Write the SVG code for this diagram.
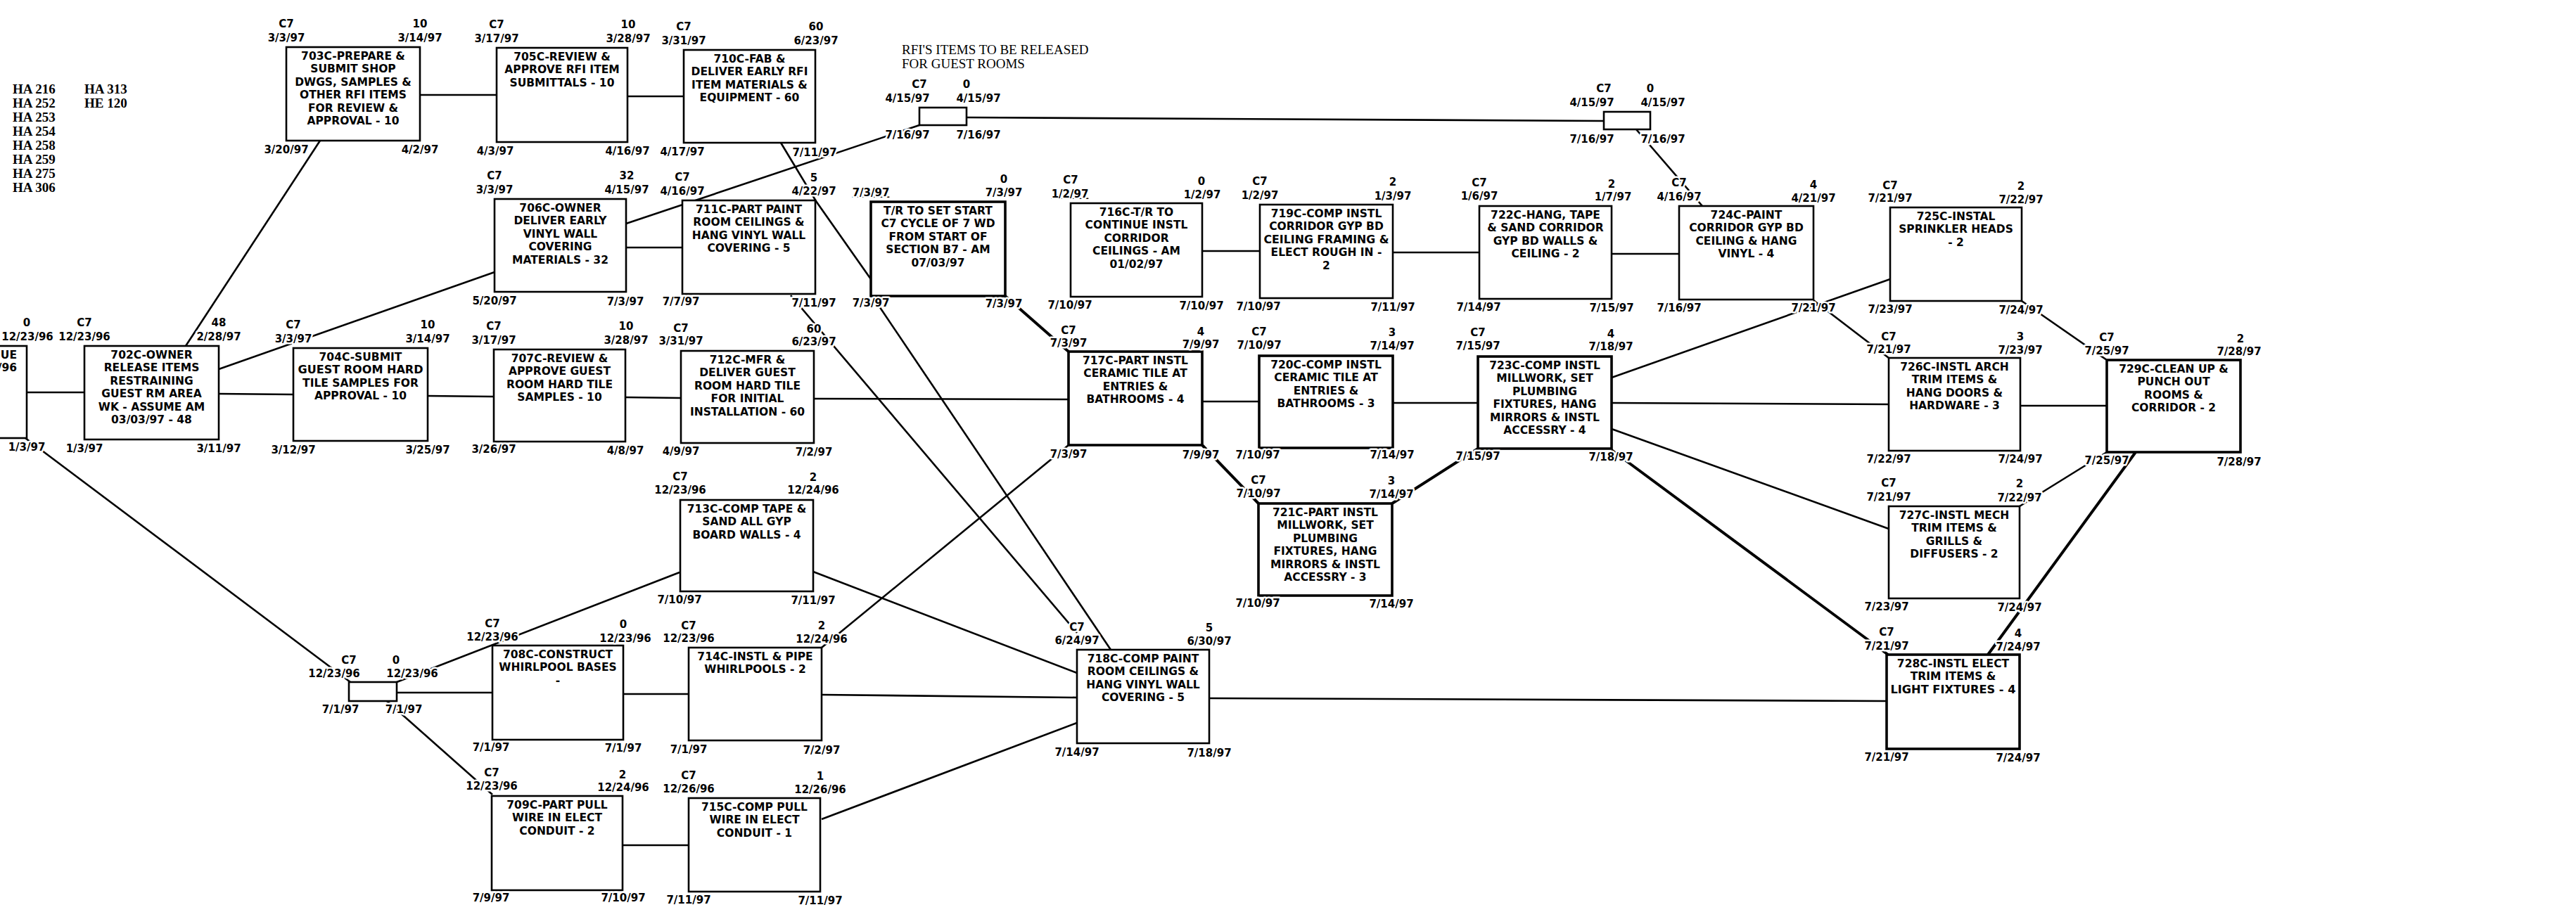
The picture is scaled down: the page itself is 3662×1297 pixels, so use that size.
<svg xmlns="http://www.w3.org/2000/svg" width="3662" height="1297" viewBox="0 0 3662 1297">
<style>
.box{fill:#fff;stroke:#000;stroke-width:2.6}
.crit{stroke-width:3.6}
.t{font-family:"DejaVu Sans","Liberation Sans",sans-serif;font-weight:bold;font-size:15.5px;text-anchor:middle;fill:#000}
.l{font-family:"DejaVu Sans","Liberation Sans",sans-serif;font-weight:bold;font-size:15px;text-anchor:middle;fill:#000;stroke:#fff;stroke-width:5;stroke-linejoin:round;paint-order:stroke}
.u{text-decoration:underline}
.c line,.c polyline{stroke:#000;stroke-width:2.6;fill:none}
.c .k{stroke-width:4}
.s{font-family:"Liberation Serif","Times New Roman",serif;font-weight:bold;font-size:19px;fill:#000}
.s2{font-family:"Liberation Serif","Times New Roman",serif;font-size:19px;fill:#000}
</style>
<rect width="3662" height="1297" fill="#fff"/>
<g id="legend">
<text class="s" x="18" y="133">HA 216</text><text class="s" x="18" y="153">HA 252</text><text class="s" x="18" y="173">HA 253</text><text class="s" x="18" y="193">HA 254</text><text class="s" x="18" y="213">HA 258</text><text class="s" x="18" y="233">HA 259</text><text class="s" x="18" y="253">HA 275</text><text class="s" x="18" y="273">HA 306</text>
<text class="s" x="120" y="133">HA 313</text><text class="s" x="120" y="153">HE 120</text>
<text class="s2" x="1282" y="77">RFI'S ITEMS TO BE RELEASED</text><text class="s2" x="1282" y="97">FOR GUEST ROOMS</text>
</g>
<g id="connectors" class="c">
<line x1="38" y1="558" x2="120" y2="558"/>
<line x1="264" y1="492" x2="455" y2="200"/>
<line x1="311" y1="525" x2="703" y2="387"/>
<line x1="311" y1="560" x2="417" y2="561"/>
<line x1="608" y1="563" x2="702" y2="564"/>
<line x1="889" y1="565" x2="968" y2="566"/>
<line x1="1157" y1="567" x2="1519" y2="568"/>
<line x1="597" y1="135" x2="706" y2="135"/>
<line x1="892" y1="137" x2="972" y2="137"/>
<line x1="890" y1="352" x2="970" y2="352"/>
<line x1="890" y1="318" x2="1307" y2="178"/>
<polyline points="1110,203 1160,286 1238,397"/>
<line class="k" x1="1429" y1="421" x2="1519" y2="500"/>
<line x1="1124" y1="420" x2="1531" y2="900"/>
<line x1="1240" y1="421" x2="1579" y2="924"/>
<line x1="1709" y1="357" x2="1791" y2="357"/>
<line x1="1980" y1="359" x2="2103" y2="359"/>
<line x1="2291" y1="361" x2="2387" y2="361"/>
<line x1="1374" y1="167" x2="2280" y2="172"/>
<line x1="2326" y1="184" x2="2420" y2="293"/>
<line x1="2291" y1="537" x2="2687" y2="397"/>
<line x1="2578" y1="427" x2="2685" y2="509"/>
<line x1="2291" y1="573" x2="2685" y2="575"/>
<line x1="2291" y1="610" x2="2685" y2="752"/>
<line class="k" x1="2291" y1="640" x2="2684" y2="931"/>
<line x1="2872" y1="577" x2="2995" y2="577"/>
<line x1="2874" y1="428" x2="2995" y2="512"/>
<line x1="2871" y1="720" x2="2995" y2="643"/>
<line class="k" x1="2826" y1="931" x2="3036" y2="643"/>
<line x1="1719" y1="993" x2="2682" y2="997"/>
<line x1="1156" y1="813" x2="1531" y2="957"/>
<line x1="1168" y1="988" x2="1531" y2="992"/>
<line x1="1168" y1="1165" x2="1531" y2="1028"/>
<line x1="564" y1="970" x2="966" y2="814"/>
<line x1="564" y1="985" x2="700" y2="985"/>
<line x1="550" y1="997" x2="700" y2="1130"/>
<line x1="36" y1="623" x2="498" y2="970"/>
<line x1="886" y1="987" x2="979" y2="987"/>
<line x1="885" y1="1202" x2="979" y2="1202"/>
<line x1="1168" y1="921" x2="1519" y2="633"/>
<line x1="1709" y1="571" x2="1790" y2="571"/>
<line x1="1980" y1="573" x2="2101" y2="573"/>
<line class="k" x1="1709" y1="633" x2="1789" y2="716"/>
<line class="k" x1="1979" y1="716" x2="2101" y2="638"/>
</g>

<g id="nP" transform="translate(-12,492)"><rect class="box" width="50" height="131"/><text class="t" x="36" y="17.5" style="text-anchor:end">UE</text><text class="t" x="36" y="36" style="text-anchor:end">/96</text><text class="l" x="50" y="-28.5">0</text><text class="l" x="51" y="-8.5">12/23/96</text><text class="l" x="50" y="148.5">1/3/97</text></g>

<g id="n702C" transform="translate(120,492)"><rect class="box" width="191" height="133"/><text class="t" x="95.5" y="17.5">702C-OWNER</text><text class="t" x="95.5" y="36">RELEASE ITEMS</text><text class="t" x="95.5" y="54.5">RESTRAINING</text><text class="t" x="95.5" y="73">GUEST RM AREA</text><text class="t" x="95.5" y="91.5">WK - ASSUME AM</text><text class="t" x="95.5" y="110">03/03/97 - 48</text><text class="l" x="0" y="-28.5">C7</text><text class="l" x="0" y="-8.5">12/23/96</text><text class="l" x="191" y="-28.5">48</text><text class="l" x="191" y="-8.5">2/28/97</text><text class="l" x="0" y="150.5">1/3/97</text><text class="l" x="191" y="150.5">3/11/97</text></g>

<g id="n703C" transform="translate(407,67)"><rect class="box" width="190" height="133"/><text class="t" x="95" y="17.5">703C-PREPARE &amp;</text><text class="t" x="95" y="36">SUBMIT SHOP</text><text class="t" x="95" y="54.5">DWGS, SAMPLES &amp;</text><text class="t" x="95" y="73">OTHER RFI ITEMS</text><text class="t" x="95" y="91.5">FOR REVIEW &amp;</text><text class="t" x="95" y="110">APPROVAL - 10</text><text class="l" x="0" y="-28.5">C7</text><text class="l" x="0" y="-8.5">3/3/97</text><text class="l" x="190" y="-28.5">10</text><text class="l" x="190" y="-8.5">3/14/97</text><text class="l" x="0" y="150.5">3/20/97</text><text class="l" x="190" y="150.5">4/2/97</text></g>

<g id="n704C" transform="translate(417,495)"><rect class="box" width="191" height="132"/><text class="t" x="95.5" y="17.5">704C-SUBMIT</text><text class="t" x="95.5" y="36" textLength="178" lengthAdjust="spacingAndGlyphs">GUEST ROOM HARD</text><text class="t" x="95.5" y="54.5">TILE SAMPLES FOR</text><text class="t" x="95.5" y="73">APPROVAL - 10</text><text class="l" x="0" y="-28.5">C7</text><text class="l" x="0" y="-8.5">3/3/97</text><text class="l" x="191" y="-28.5">10</text><text class="l" x="191" y="-8.5">3/14/97</text><text class="l" x="0" y="149.5">3/12/97</text><text class="l" x="191" y="149.5">3/25/97</text></g>

<g id="n705C" transform="translate(706,68)"><rect class="box" width="186" height="134"/><text class="t" x="93" y="17.5">705C-REVIEW &amp;</text><text class="t" x="93" y="36">APPROVE RFI ITEM</text><text class="t" x="93" y="54.5">SUBMITTALS - 10</text><text class="l" x="0" y="-28.5">C7</text><text class="l" x="0" y="-8.5">3/17/97</text><text class="l" x="187" y="-28.5">10</text><text class="l" x="187" y="-8.5">3/28/97</text><text class="l" x="-2" y="151.5">4/3/97</text><text class="l" x="186" y="151.5">4/16/97</text></g>

<g id="n706C" transform="translate(703,283)"><rect class="box" width="187" height="132"/><text class="t" x="93.5" y="17.5">706C-OWNER</text><text class="t" x="93.5" y="36">DELIVER EARLY</text><text class="t" x="93.5" y="54.5">VINYL WALL</text><text class="t" x="93.5" y="73">COVERING</text><text class="t" x="93.5" y="91.5">MATERIALS - 32</text><text class="l" x="0" y="-28.5">C7</text><text class="l" x="0" y="-8.5">3/3/97</text><text class="l" x="188" y="-28.5">32</text><text class="l" x="188" y="-8.5">4/15/97</text><text class="l" x="0" y="149.5">5/20/97</text><text class="l" x="186" y="150.5">7/3/97</text></g>

<g id="n707C" transform="translate(702,497)"><rect class="box" width="187" height="131"/><text class="t" x="93.5" y="17.5">707C-REVIEW &amp;</text><text class="t" x="93.5" y="36">APPROVE GUEST</text><text class="t" x="93.5" y="54.5">ROOM HARD TILE</text><text class="t" x="93.5" y="73">SAMPLES - 10</text><text class="l" x="0" y="-28.5">C7</text><text class="l" x="0" y="-8.5">3/17/97</text><text class="l" x="188" y="-28.5">10</text><text class="l" x="188" y="-8.5">3/28/97</text><text class="l" x="0" y="146.5">3/26/97</text><text class="l" x="187" y="148.5">4/8/97</text></g>

<g id="n708C" transform="translate(700,918)"><rect class="box" width="186" height="134"/><text class="t" x="93" y="17.5">708C-CONSTRUCT</text><text class="t" x="93" y="36">WHIRLPOOL BASES</text><text class="t" x="93" y="54.5">-</text><text class="l" x="0" y="-26.5">C7</text><text class="l" x="0" y="-7">12/23/96</text><text class="l" x="186" y="-25">0</text><text class="l" x="189" y="-5">12/23/96</text><text class="l" x="-2" y="149.5">7/1/97</text><text class="l" x="186" y="150.5">7/1/97</text></g>

<g id="n709C" transform="translate(699,1132)"><rect class="box" width="186" height="134"/><text class="t" x="93" y="17.5">709C-PART PULL</text><text class="t" x="93" y="36">WIRE IN ELECT</text><text class="t" x="93" y="54.5">CONDUIT - 2</text><text class="l" x="0" y="-28">C7</text><text class="l" x="0" y="-9">12/23/96</text><text class="l" x="186" y="-25">2</text><text class="l" x="187" y="-7">12/24/96</text><text class="l" x="-1" y="150">7/9/97</text><text class="l" x="187" y="150">7/10/97</text></g>

<g id="n710C" transform="translate(972,71)"><rect class="box" width="187" height="132"/><text class="t" x="93.5" y="17.5">710C-FAB &amp;</text><text class="t" x="93.5" y="36">DELIVER EARLY RFI</text><text class="t" x="93.5" y="54.5">ITEM MATERIALS &amp;</text><text class="t" x="93.5" y="73">EQUIPMENT - 60</text><text class="l" x="0" y="-28.5">C7</text><text class="l" x="0" y="-8.5">3/31/97</text><text class="l" x="188" y="-28.5">60</text><text class="l" x="188" y="-8.5">6/23/97</text><text class="l" x="-2" y="149.5">4/17/97</text><text class="l" x="186" y="150.5">7/11/97</text></g>

<g id="n711C" transform="translate(970,285)"><rect class="box" width="189" height="133"/><text class="t" x="94.5" y="17.5">711C-PART PAINT</text><text class="t" x="94.5" y="36">ROOM CEILINGS &amp;</text><text class="t" x="94.5" y="54.5">HANG VINYL WALL</text><text class="t" x="94.5" y="73">COVERING - 5</text><text class="l" x="0" y="-28.5">C7</text><text class="l" x="0" y="-8.5">4/16/97</text><text class="l" x="187" y="-27">5</text><text class="l" x="187" y="-8">4/22/97</text><text class="l" x="-2" y="148.5">7/7/97</text><text class="l" x="187" y="150.5">7/11/97</text></g>

<g id="n712C" transform="translate(968,499)"><rect class="box" width="189" height="131"/><text class="t" x="94.5" y="17.5">712C-MFR &amp;</text><text class="t" x="94.5" y="36">DELIVER GUEST</text><text class="t" x="94.5" y="54.5">ROOM HARD TILE</text><text class="t" x="94.5" y="73">FOR INITIAL</text><text class="t" x="94.5" y="91.5">INSTALLATION - 60</text><text class="l" x="0" y="-27.5">C7</text><text class="l" x="0" y="-9.5">3/31/97</text><text class="l" x="189" y="-26.5">60</text><text class="l" x="189" y="-8.5">6/23/97</text><text class="l" x="0" y="147.5">4/9/97</text><text class="l" x="189" y="148.5">7/2/97</text></g>

<g id="n713C" transform="translate(967,711)"><rect class="box" width="189" height="130"/><text class="t" x="94.5" y="17.5">713C-COMP TAPE &amp;</text><text class="t" x="94.5" y="36">SAND ALL GYP</text><text class="t" x="94.5" y="54.5">BOARD WALLS - 4</text><text class="l" x="0" y="-28.5">C7</text><text class="l" x="0" y="-9">12/23/96</text><text class="l" x="189" y="-27.5">2</text><text class="l" x="189" y="-9">12/24/96</text><text class="l" x="-1" y="146.5">7/10/97</text><text class="l" x="189" y="147.5">7/11/97</text></g>

<g id="n714C" transform="translate(979,921)"><rect class="box" width="189" height="132"/><text class="t" x="94.5" y="17.5">714C-INSTL &amp; PIPE</text><text class="t" x="94.5" y="36">WHIRLPOOLS - 2</text><text class="l" x="0" y="-26.5">C7</text><text class="l" x="0" y="-8">12/23/96</text><text class="l" x="189" y="-26">2</text><text class="l" x="189" y="-7">12/24/96</text><text class="l" x="0" y="149.5">7/1/97</text><text class="l" x="189" y="150.5">7/2/97</text></g>

<g id="n715C" transform="translate(979,1135)"><rect class="box" width="187" height="133"/><text class="t" x="93.5" y="17.5">715C-COMP PULL</text><text class="t" x="93.5" y="36">WIRE IN ELECT</text><text class="t" x="93.5" y="54.5">CONDUIT - 1</text><text class="l" x="0" y="-27">C7</text><text class="l" x="0" y="-8">12/26/96</text><text class="l" x="187" y="-26">1</text><text class="l" x="187" y="-7">12/26/96</text><text class="l" x="0" y="149.5">7/11/97</text><text class="l" x="187" y="151">7/11/97</text></g>

<g id="nTR" transform="translate(1238,287)"><rect class="box crit" width="191" height="134"/><text class="t" x="95.5" y="17.5">T/R TO SET START</text><text class="t" x="95.5" y="36">C7 CYCLE OF 7 WD</text><text class="t" x="95.5" y="54.5">FROM START OF</text><text class="t" x="95.5" y="73">SECTION B7 - AM</text><text class="t" x="95.5" y="91.5">07/03/97</text><text class="l u" x="0" y="-8.5">7/3/97</text><text class="l" x="189" y="-27">0</text><text class="l" x="189" y="-8">7/3/97</text><text class="l" x="0" y="148.5">7/3/97</text><text class="l" x="189" y="150">7/3/97</text></g>

<g id="n716C" transform="translate(1522,289)"><rect class="box" width="187" height="133"/><text class="t" x="93.5" y="17.5">716C-T/R TO</text><text class="t" x="93.5" y="36">CONTINUE INSTL</text><text class="t" x="93.5" y="54.5">CORRIDOR</text><text class="t" x="93.5" y="73">CEILINGS - AM</text><text class="t" x="93.5" y="91.5">01/02/97</text><text class="l" x="0" y="-28.5">C7</text><text class="l u" x="-1" y="-8.5">1/2/97</text><text class="l" x="186" y="-26">0</text><text class="l" x="187" y="-7">1/2/97</text><text class="l" x="-1" y="149.5">7/10/97</text><text class="l" x="186" y="151">7/10/97</text></g>

<g id="n717C" transform="translate(1519,500)"><rect class="box crit" width="190" height="133"/><text class="t" x="95" y="17.5">717C-PART INSTL</text><text class="t" x="95" y="36">CERAMIC TILE AT</text><text class="t" x="95" y="54.5">ENTRIES &amp;</text><text class="t" x="95" y="73">BATHROOMS - 4</text><text class="l" x="0" y="-25">C7</text><text class="l" x="0" y="-7">7/3/97</text><text class="l" x="188" y="-23">4</text><text class="l" x="188" y="-5">7/9/97</text><text class="l" x="0" y="150.5">7/3/97</text><text class="l" x="188" y="151.5">7/9/97</text></g>

<g id="n718C" transform="translate(1531,924)"><rect class="box" width="188" height="133"/><text class="t" x="94" y="17.5">718C-COMP PAINT</text><text class="t" x="94" y="36">ROOM CEILINGS &amp;</text><text class="t" x="94" y="54.5">HANG VINYL WALL</text><text class="t" x="94" y="73">COVERING - 5</text><text class="l" x="0" y="-27">C7</text><text class="l" x="0" y="-8">6/24/97</text><text class="l" x="188" y="-26">5</text><text class="l" x="188" y="-7">6/30/97</text><text class="l" x="0" y="150.5">7/14/97</text><text class="l" x="188" y="151.5">7/18/97</text></g>

<g id="n719C" transform="translate(1791,291)"><rect class="box" width="189" height="133"/><text class="t" x="94.5" y="17.5">719C-COMP INSTL</text><text class="t" x="94.5" y="36">CORRIDOR GYP BD</text><text class="t" x="94.5" y="54.5" textLength="178" lengthAdjust="spacingAndGlyphs">CEILING FRAMING &amp;</text><text class="t" x="94.5" y="73">ELECT ROUGH IN -</text><text class="t" x="94.5" y="91.5">2</text><text class="l" x="0" y="-28">C7</text><text class="l" x="0" y="-8.5">1/2/97</text><text class="l" x="189" y="-27">2</text><text class="l" x="189" y="-7.5">1/3/97</text><text class="l" x="-2" y="149.5">7/10/97</text><text class="l" x="189" y="150.5">7/11/97</text></g>

<g id="n720C" transform="translate(1790,506)"><rect class="box crit" width="190" height="131"/><text class="t" x="95" y="17.5">720C-COMP INSTL</text><text class="t" x="95" y="36">CERAMIC TILE AT</text><text class="t" x="95" y="54.5">ENTRIES &amp;</text><text class="t" x="95" y="73">BATHROOMS - 3</text><text class="l" x="0" y="-29">C7</text><text class="l" x="0" y="-10.5">7/10/97</text><text class="l" x="189" y="-28">3</text><text class="l" x="189" y="-9">7/14/97</text><text class="l" x="-2" y="146">7/10/97</text><text class="l" x="189" y="146">7/14/97</text></g>

<g id="n721C" transform="translate(1789,716)"><rect class="box crit" width="190" height="131"/><text class="t" x="95" y="17.5">721C-PART INSTL</text><text class="t" x="95" y="36">MILLWORK, SET</text><text class="t" x="95" y="54.5">PLUMBING</text><text class="t" x="95" y="73">FIXTURES, HANG</text><text class="t" x="95" y="91.5">MIRRORS &amp; INSTL</text><text class="t" x="95" y="110">ACCESSRY - 3</text><text class="l" x="0" y="-28">C7</text><text class="l" x="0" y="-9">7/10/97</text><text class="l" x="189" y="-27">3</text><text class="l" x="189" y="-8">7/14/97</text><text class="l" x="-1" y="146.5">7/10/97</text><text class="l" x="189" y="147.5">7/14/97</text></g>

<g id="n722C" transform="translate(2103,293)"><rect class="box" width="188" height="132"/><text class="t" x="94" y="17.5">722C-HANG, TAPE</text><text class="t" x="94" y="36">&amp; SAND CORRIDOR</text><text class="t" x="94" y="54.5">GYP BD WALLS &amp;</text><text class="t" x="94" y="73">CEILING - 2</text><text class="l" x="0" y="-28.5">C7</text><text class="l" x="0" y="-9.5">1/6/97</text><text class="l" x="188" y="-26">2</text><text class="l" x="190" y="-8.5">1/7/97</text><text class="l" x="-1" y="148.5">7/14/97</text><text class="l" x="188" y="149.5">7/15/97</text></g>

<g id="n723C" transform="translate(2101,507)"><rect class="box crit" width="190" height="131"/><text class="t" x="95" y="17.5">723C-COMP INSTL</text><text class="t" x="95" y="36">MILLWORK, SET</text><text class="t" x="95" y="54.5">PLUMBING</text><text class="t" x="95" y="73">FIXTURES, HANG</text><text class="t" x="95" y="91.5">MIRRORS &amp; INSTL</text><text class="t" x="95" y="110">ACCESSRY - 4</text><text class="l" x="0" y="-29">C7</text><text class="l" x="0" y="-10">7/15/97</text><text class="l" x="189" y="-27">4</text><text class="l" x="189" y="-9">7/18/97</text><text class="l" x="0" y="146.5">7/15/97</text><text class="l" x="189" y="147.5">7/18/97</text></g>

<g id="n724C" transform="translate(2387,293)"><rect class="box" width="191" height="133"/><text class="t" x="95.5" y="17.5">724C-PAINT</text><text class="t" x="95.5" y="36">CORRIDOR GYP BD</text><text class="t" x="95.5" y="54.5">CEILING &amp; HANG</text><text class="t" x="95.5" y="73">VINYL - 4</text><text class="l" x="0" y="-28.5">C7</text><text class="l" x="0" y="-8.5">4/16/97</text><text class="l" x="191" y="-25">4</text><text class="l" x="191" y="-6.5">4/21/97</text><text class="l" x="0" y="149.5">7/16/97</text><text class="l" x="191" y="149.5">7/21/97</text></g>

<g id="n725C" transform="translate(2687,295)"><rect class="box" width="187" height="133"/><text class="t" x="93.5" y="17.5">725C-INSTAL</text><text class="t" x="93.5" y="36">SPRINKLER HEADS</text><text class="t" x="93.5" y="54.5">- 2</text><text class="l" x="0" y="-26.5">C7</text><text class="l" x="0" y="-8.5">7/21/97</text><text class="l" x="186" y="-25">2</text><text class="l" x="186" y="-6.5">7/22/97</text><text class="l" x="0" y="149.5">7/23/97</text><text class="l" x="186" y="150.5">7/24/97</text></g>

<g id="n726C" transform="translate(2685,509)"><rect class="box" width="187" height="132"/><text class="t" x="93.5" y="17.5">726C-INSTL ARCH</text><text class="t" x="93.5" y="36">TRIM ITEMS &amp;</text><text class="t" x="93.5" y="54.5">HANG DOORS &amp;</text><text class="t" x="93.5" y="73">HARDWARE - 3</text><text class="l" x="0" y="-25.5">C7</text><text class="l" x="0" y="-7.5">7/21/97</text><text class="l" x="187" y="-25">3</text><text class="l" x="187" y="-6.5">7/23/97</text><text class="l" x="0" y="148.5">7/22/97</text><text class="l" x="187" y="148.5">7/24/97</text></g>

<g id="n727C" transform="translate(2685,720)"><rect class="box" width="186" height="131"/><text class="t" x="93" y="17.5">727C-INSTL MECH</text><text class="t" x="93" y="36">TRIM ITEMS &amp;</text><text class="t" x="93" y="54.5">GRILLS &amp;</text><text class="t" x="93" y="73">DIFFUSERS - 2</text><text class="l" x="0" y="-28">C7</text><text class="l" x="0" y="-8">7/21/97</text><text class="l" x="186" y="-27">2</text><text class="l" x="186" y="-7.5">7/22/97</text><text class="l" x="-3" y="147.5">7/23/97</text><text class="l" x="186" y="148.5">7/24/97</text></g>

<g id="n728C" transform="translate(2682,931)"><rect class="box crit" width="189" height="134"/><text class="t" x="94.5" y="17.5">728C-INSTL ELECT</text><text class="t" x="94.5" y="36">TRIM ITEMS &amp;</text><text class="t" x="94.5" y="54.5" textLength="178" lengthAdjust="spacingAndGlyphs">LIGHT FIXTURES - 4</text><text class="l" x="0" y="-27">C7</text><text class="l" x="0" y="-7.5">7/21/97</text><text class="l" x="187" y="-25">4</text><text class="l" x="187" y="-6.5">7/24/97</text><text class="l" x="0" y="150.5">7/21/97</text><text class="l" x="187" y="151.5">7/24/97</text></g>

<g id="n729C" transform="translate(2995,512)"><rect class="box crit" width="190" height="131"/><text class="t" x="95" y="17.5">729C-CLEAN UP  &amp;</text><text class="t" x="95" y="36">PUNCH OUT</text><text class="t" x="95" y="54.5">ROOMS &amp;</text><text class="t" x="95" y="73">CORRIDOR - 2</text><text class="l" x="0" y="-27.5">C7</text><text class="l" x="0" y="-8.5">7/25/97</text><text class="l" x="190" y="-25.5">2</text><text class="l" x="188" y="-7.5">7/28/97</text><text class="l" x="0" y="147.5">7/25/97</text><text class="l" x="188" y="149.5">7/28/97</text></g>

<g id="nM1" transform="translate(1307,153)"><rect class="box" width="67" height="25"/><text class="l" x="0" y="-28.5">C7</text><text class="l" x="-17" y="-8.5">4/15/97</text><text class="l" x="67" y="-28.5">0</text><text class="l" x="84" y="-8.5">4/15/97</text><text class="l" x="-17" y="43.5">7/16/97</text><text class="l" x="84" y="43.5">7/16/97</text></g>

<g id="nM2" transform="translate(2280,159)"><rect class="box" width="66" height="25"/><text class="l" x="0" y="-28.5">C7</text><text class="l" x="-17" y="-8.5">4/15/97</text><text class="l" x="66" y="-28.5">0</text><text class="l" x="84" y="-8.5">4/15/97</text><text class="l" x="-17" y="43.5">7/16/97</text><text class="l" x="84" y="43.5">7/16/97</text></g>

<g id="nM3" transform="translate(496,970)"><rect class="box" width="68" height="27"/><text class="l" x="0" y="-26.5">C7</text><text class="l" x="-21" y="-7.5">12/23/96</text><text class="l" x="67" y="-26.5">0</text><text class="l" x="90" y="-7">12/23/96</text><text class="l" x="-12" y="43.5">7/1/97</text><text class="l" x="78" y="43.5">7/1/97</text></g>
</svg>
